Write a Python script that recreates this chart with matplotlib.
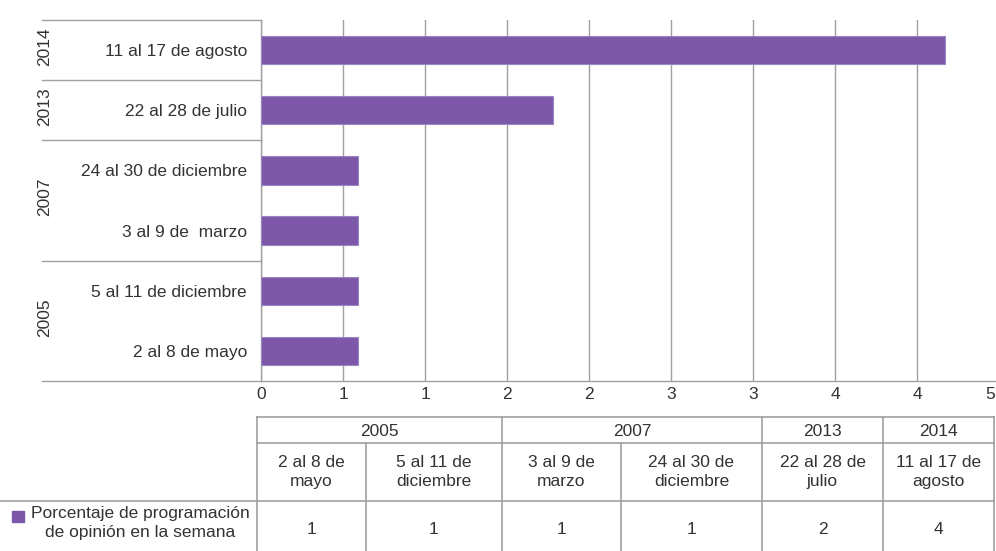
import math
import matplotlib
matplotlib.use('Agg')
import matplotlib.pyplot as plt
from matplotlib.lines import Line2D
from matplotlib.patches import Rectangle

# ── Data ───────────────────────────────────────────────────────────────────────
years = ['2005', '2005', '2007', '2007', '2013', '2014']
weeks = ['2 al 8 de mayo', '5 al 11 de diciembre', '3 al 9 de  marzo',
         '24 al 30 de diciembre', '22 al 28 de julio', '11 al 17 de agosto']
weeks_table = ['2 al 8 de\nmayo', '5 al 11 de\ndiciembre', '3 al 9 de\nmarzo',
               '24 al 30 de\ndiciembre', '22 al 28 de\njulio', '11 al 17 de\nagosto']
values = [0.59, 0.59, 0.59, 0.59, 1.78, 4.17]
series_name = 'Porcentaje de programación\nde opinión en la semana'
x_ticks = [0, 0.5, 1, 1.5, 2, 2.5, 3, 3.5, 4, 4.5]

# ── Style ──────────────────────────────────────────────────────────────────────
plt.rcParams['font.family'] = ['Liberation Sans Narrow', 'Liberation Sans', 'DejaVu Sans']
TXT = '#333333'
GRID = '#a0a0a0'
BAR = '#7d58a9'
FS = 12.5

W, H = 996, 551
fig = plt.figure(figsize=(W / 100, H / 100), dpi=100)
fig.patch.set_facecolor('white')

def px(x0, y0, x1, y1):
    # pixel box -> figure fraction rect
    return [x0 / W, 1 - y1 / H, (x1 - x0) / W, (y1 - y0) / H]

# ── Bar chart ──────────────────────────────────────────────────────────────────
ax = fig.add_axes(px(261, 20, 999, 381))
ypos = list(range(len(values)))
ax.barh(ypos, values, height=0.47, color=BAR, edgecolor='#9a86c2', linewidth=0.8, zorder=3)
ax.set_xlim(0, 4.5)
ax.set_ylim(-0.5, len(values) - 0.5)
ax.set_xticks(x_ticks)
tick_txt = [str(math.floor(v + 0.5)) for v in x_ticks]
ax.set_xticklabels(tick_txt[:-1] + [''])
# last label sits on the figure edge, nudge it inside
ax.annotate(tick_txt[-1], xy=(x_ticks[-1], 0), xycoords=('data', 'axes fraction'),
            xytext=(-3, -4), textcoords='offset points', ha='right', va='top',
            fontsize=FS, color=TXT, annotation_clip=False)
ax.set_yticks(ypos)
ax.set_yticklabels(weeks)
ax.tick_params(axis='both', length=0, labelsize=FS, colors=TXT)
ax.tick_params(axis='x', pad=4)
ax.tick_params(axis='y', pad=10)
ax.grid(axis='x', color=GRID, linewidth=1, zorder=0)
for s in ['top', 'right']:
    ax.spines[s].set_visible(False)
for s in ['left', 'bottom']:
    ax.spines[s].set_color(GRID)
    ax.spines[s].set_linewidth(1)

# year group separators and labels on the left
ytr = ax.get_yaxis_transform()
x_line0 = (42 - 261) / (999 - 261)
x_year = (45 - 261) / (999 - 261)
bounds = [-0.5] + [i + 0.5 for i in range(len(years) - 1) if years[i] != years[i + 1]] + [len(years) - 0.5]
for b in bounds:
    ax.add_line(Line2D([x_line0, 0], [b, b], transform=ytr, color=GRID, lw=1, clip_on=False))
for lo, hi in zip(bounds[:-1], bounds[1:]):
    ax.text(x_year, (lo + hi) / 2 + 0.06, years[int(lo + 0.5)], transform=ytr, rotation=90,
            ha='center', va='center', fontsize=FS, color=TXT)

# ── Data table ─────────────────────────────────────────────────────────────────
tb = fig.add_axes([0, 0, 1, 1])
tb.set_xlim(0, W)
tb.set_ylim(H, 0)
tb.axis('off')
col_edges = [257, 366, 502, 621, 762, 883, 994]
r0, r1, r2, r3 = 417, 443, 501, 551

def hl(x0, x1, y):
    tb.plot([x0, x1], [y, y], color=GRID, lw=1.2)

def vl(x, y0, y1):
    tb.plot([x, x], [y0, y1], color=GRID, lw=1.2)

hl(col_edges[0], col_edges[-1], r0)
hl(col_edges[0], col_edges[-1], r1)
hl(0, col_edges[-1], r2)
for x in col_edges:
    vl(x, r1, r3)
# year header cells
start = 0
for i in range(1, len(years) + 1):
    if i == len(years) or years[i] != years[start]:
        vl(col_edges[start], r0, r1)
        tb.text((col_edges[start] + col_edges[i]) / 2, (r0 + r1) / 2 + 1, years[start],
                ha='center', va='center', fontsize=FS, color=TXT)
        start = i
vl(col_edges[-1], r0, r1)
for i in range(len(values)):
    cx = (col_edges[i] + col_edges[i + 1]) / 2
    tb.text(cx, (r1 + r2) / 2, weeks_table[i], ha='center', va='center',
            fontsize=FS, color=TXT, linespacing=1.3)
    tb.text(cx, 530, str(math.floor(values[i] + 0.5)), ha='center', va='center',
            fontsize=FS, color=TXT)
# legend key
tb.add_patch(Rectangle((12, 511), 12, 11, color=BAR))
tb.text(140, 523, series_name, ha='center', va='center', multialignment='center',
        fontsize=FS, color=TXT, linespacing=1.35)

fig.savefig('out.png', dpi=100)
